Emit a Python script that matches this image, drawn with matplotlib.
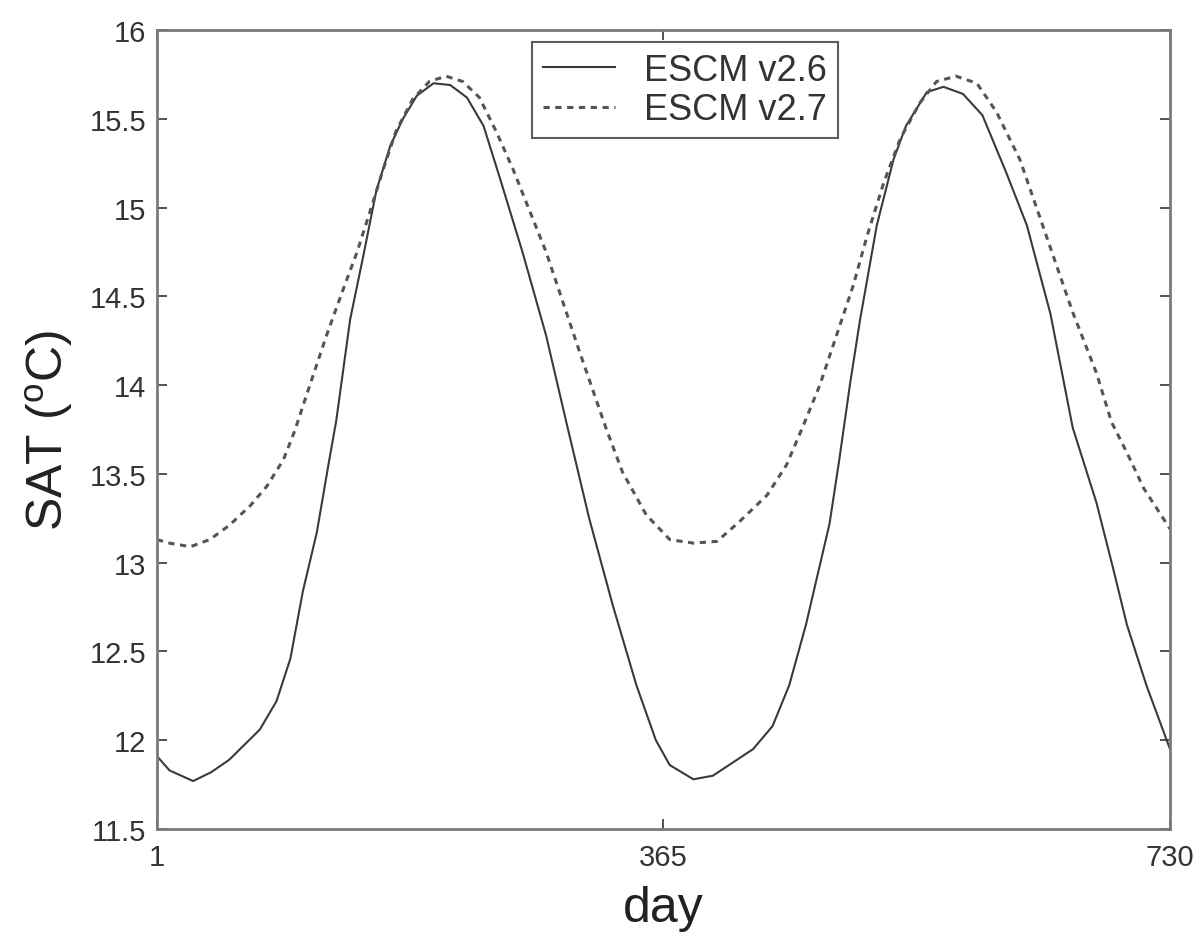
#plot SAT seasonal cycle of two ESCM versions, x-axis is the day, y-axis SAT in deg C

import numpy as np
import matplotlib
matplotlib.use("Agg")
import matplotlib.pyplot as plt

#=====================Data===============
day_v26 = [1, 10, 27, 40, 53, 75, 87, 97, 106, 116, 125, 130, 140, 149, 159, 169, 178, 188,
           200, 212, 224, 236, 248, 264, 281, 295, 312, 329, 346, 360, 370, 387, 401, 430,
           444, 456, 468, 485, 492, 500, 507, 519, 531, 540, 555, 567, 581, 595, 612, 627,
           644, 660, 677, 689, 699, 713, 730]
sat_v26 = [11.91, 11.83, 11.77, 11.82, 11.89, 12.06, 12.22, 12.46, 12.84, 13.17, 13.58, 13.80,
           14.37, 14.71, 15.10, 15.35, 15.50, 15.63, 15.70, 15.69, 15.62, 15.46, 15.16, 14.75,
           14.28, 13.81, 13.25, 12.76, 12.31, 12.00, 11.86, 11.78, 11.80, 11.95, 12.08, 12.31,
           12.65, 13.22, 13.58, 14.02, 14.37, 14.90, 15.27, 15.46, 15.65, 15.68, 15.64, 15.52,
           15.20, 14.90, 14.40, 13.76, 13.34, 12.97, 12.65, 12.31, 11.95]

day_v27 = [1, 10, 25, 39, 53, 68, 80, 92, 100, 111, 123, 135, 145, 154, 164, 173, 185, 197,
           209, 221, 233, 245, 257, 281, 305, 324, 336, 353, 370, 387, 404, 420, 440, 454,
           466, 478, 490, 502, 512, 524, 536, 550, 562, 576, 591, 605, 622, 641, 660, 677,
           688, 699, 711, 730]
sat_v27 = [13.13, 13.11, 13.09, 13.13, 13.21, 13.32, 13.43, 13.58, 13.74, 14.00, 14.28, 14.54,
           14.75, 14.97, 15.22, 15.43, 15.61, 15.71, 15.74, 15.71, 15.62, 15.43, 15.22, 14.75,
           14.19, 13.76, 13.51, 13.27, 13.13, 13.11, 13.12, 13.23, 13.38, 13.55, 13.77, 14.00,
           14.28, 14.56, 14.84, 15.14, 15.39, 15.59, 15.71, 15.74, 15.70, 15.54, 15.27, 14.84,
           14.41, 14.07, 13.79, 13.62, 13.42, 13.19]

leg_title = ["ESCM v2.6", "ESCM v2.7"]
xticks = [1, 365, 730]
yticks = [11.5, 12, 12.5, 13, 13.5, 14, 14.5, 15, 15.5, 16]
ytick_labels = ["11.5", "12", "12.5", "13", "13.5", "14", "14.5", "15", "15.5", "16"]

#====================Plot=======================
plt.rcParams['font.family'] = ['Liberation Sans', 'DejaVu Sans']
plt.rcParams['mathtext.fontset'] = 'custom'
plt.rcParams['mathtext.rm'] = 'Liberation Sans'
plt.rcParams['lines.scale_dashes'] = False

fig = plt.figure(figsize=(12, 9.45), dpi=100)
ax1 = fig.add_axes([157/1200, 1-830/945, (1170-157)/1200, (830-31)/945])

ax1.plot(day_v26, sat_v26, color='#3a3a3a', linewidth=1.5, linestyle='-', label=leg_title[0])
ax1.plot(day_v27, sat_v27, color='#555555', linewidth=2.2, linestyle=(0, (4.5, 4)), label=leg_title[1])

ax1.set_xlim(1, 730)
ax1.set_ylim(11.5, 16)
ax1.set_xticks(xticks)
ax1.set_xticklabels([str(t) for t in xticks])
ax1.set_yticks(yticks)
ax1.set_yticklabels(ytick_labels)

for sp in ax1.spines.values():
    sp.set_color('#7a7a7a')
    sp.set_linewidth(2.0)

ax1.tick_params(direction='in', length=7, width=1.2, color='#333333', labelcolor='#333333',
                labelsize=21, top=True, right=True)
ax1.tick_params(axis='y', pad=8)
ax1.tick_params(axis='x', pad=10)

ax1.set_xlabel('day', fontsize=36, color='#222222', labelpad=10)
ax1.set_ylabel(r'SAT ($^{\rm o}$C)', fontsize=36, color='#222222', labelpad=10)

leg = ax1.legend(loc='upper left', bbox_to_anchor=((532-157)/1013, (830-43)/799), borderaxespad=0,
                 fontsize=26, fancybox=False, frameon=True, handlelength=2.0, handletextpad=0.8,
                 labelspacing=0.12, borderpad=0.3, labelcolor='#333333')
leg.get_frame().set_edgecolor('#333333')
leg.get_frame().set_linewidth(1.5)

plt.savefig('out.png', format="png", dpi=100)
